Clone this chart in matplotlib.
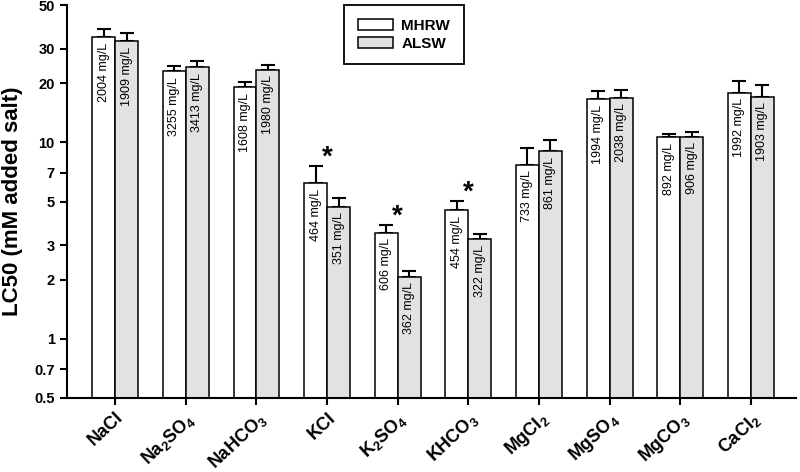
import numpy as np
import matplotlib
matplotlib.use('Agg')
import matplotlib.pyplot as plt
import matplotlib.transforms as mtransforms
from matplotlib.patches import Patch

plt.rcParams['font.family'] = ['Liberation Sans', 'DejaVu Sans']
plt.rcParams['mathtext.fontset'] = 'custom'
plt.rcParams['mathtext.rm'] = 'Liberation Sans:bold'
plt.rcParams['mathtext.it'] = 'Liberation Sans:bold'
plt.rcParams['mathtext.bf'] = 'Liberation Sans:bold'

# data
salts = ['NaCl', 'Na$_2$SO$_4$', 'NaHCO$_3$', 'KCl', 'K$_2$SO$_4$', 'KHCO$_3$',
         'MgCl$_2$', 'MgSO$_4$', 'MgCO$_3$', 'CaCl$_2$']
mhrw = [34.3, 23.0, 19.1, 6.2, 3.47, 4.53, 7.7, 16.6, 10.6, 17.9]
mhrw_err = [3.3, 1.4, 1.3, 1.4, 0.33, 0.52, 1.7, 1.6, 0.5, 2.6]
alsw = [32.7, 24.1, 23.5, 4.71, 2.07, 3.21, 9.0, 16.9, 10.7, 17.1]
alsw_err = [3.4, 1.8, 1.4, 0.48, 0.15, 0.19, 1.25, 1.7, 0.6, 2.4]
mhrw_mgl = ['2004', '3255', '1608', '464', '606', '454', '733', '1994', '892', '1992']
alsw_mgl = ['1909', '3413', '1980', '351', '362', '322', '861', '2038', '906', '1903']
signif = [False, False, False, True, True, True, False, False, False, False]

yticks = [0.5, 0.7, 1, 2, 3, 5, 7, 10, 20, 30, 50]
ytick_labels = ['0.5', '0.7', '1', '2', '3', '5', '7', '10', '20', '30', '50']

x = np.arange(len(salts))
w = 0.325
gray = '#e2e2e2'

fig = plt.figure(figsize=(8, 4.72), dpi=100)
ax = fig.add_axes([0.084, 0.157, 0.911, 0.832])

ax.bar(x - w/2, mhrw, w, color='white', edgecolor='black', linewidth=1.1, zorder=2)
ax.bar(x + w/2, alsw, w, color=gray, edgecolor='black', linewidth=1.1, zorder=2)
ax.errorbar(x - w/2, mhrw, yerr=[np.zeros(len(x)), mhrw_err], fmt='none', ecolor='black',
            elinewidth=1.5, capsize=4.7, capthick=1.5, zorder=1)
ax.errorbar(x + w/2, alsw, yerr=[np.zeros(len(x)), alsw_err], fmt='none', ecolor='black',
            elinewidth=1.5, capsize=4.7, capthick=1.5, zorder=1)

for i in range(len(x)):
    ax.annotate(mhrw_mgl[i] + ' mg/L', (x[i] - w/2, mhrw[i]), xytext=(0, -4),
                textcoords='offset points', rotation=90, ha='center', va='top', fontsize=9)
    ax.annotate(alsw_mgl[i] + ' mg/L', (x[i] + w/2, alsw[i]), xytext=(0, -4),
                textcoords='offset points', rotation=90, ha='center', va='top', fontsize=9)
    if signif[i]:
        ax.annotate('*', (x[i], mhrw[i] + mhrw_err[i]), xytext=(0, 6),
                    textcoords='offset points', ha='center', va='center',
                    fontsize=20, fontweight='bold')

ax.set_yscale('log')
ax.set_ylim(0.5, 50)
ax.set_xlim(-0.68, 9.64)
ax.set_yticks(yticks)
ax.set_yticklabels(ytick_labels)
ax.yaxis.set_minor_locator(matplotlib.ticker.NullLocator())
ax.set_xticks(x)
ax.set_xticklabels(salts, rotation=43, ha='right', rotation_mode='anchor',
                   fontsize=13, fontweight='bold')
shift = mtransforms.ScaledTranslation(6/72, 2/72, fig.dpi_scale_trans)
for lab in ax.get_xticklabels():
    lab.set_transform(lab.get_transform() + shift)
for lab in ax.get_yticklabels():
    lab.set_fontweight('bold')
    lab.set_fontsize(10.5)
ax.tick_params(axis='both', width=1.5, length=5, direction='out')
ax.tick_params(axis='y', pad=4)
ax.tick_params(axis='x', pad=3)

ax.spines['top'].set_visible(False)
ax.spines['right'].set_visible(False)
ax.spines['left'].set_linewidth(1.5)
ax.spines['bottom'].set_linewidth(1.5)

ax.set_ylabel('LC50 (mM added salt)', fontsize=16, fontweight='bold', labelpad=8)

handles = [Patch(facecolor='white', edgecolor='black', linewidth=1.1, label='MHRW'),
           Patch(facecolor=gray, edgecolor='black', linewidth=1.1, label='ALSW')]
leg = fig.legend(handles=handles, loc='upper left', bbox_to_anchor=(344/800, 1 - 5/472),
                 fancybox=False, edgecolor='black', framealpha=1, borderaxespad=0,
                 prop={'weight': 'bold', 'size': 11}, handlelength=2.3, handleheight=0.75,
                 labelspacing=0.25, handletextpad=0.55, borderpad=0.9)
leg.get_frame().set_linewidth(1.3)

fig.savefig('out.png', dpi=100)
